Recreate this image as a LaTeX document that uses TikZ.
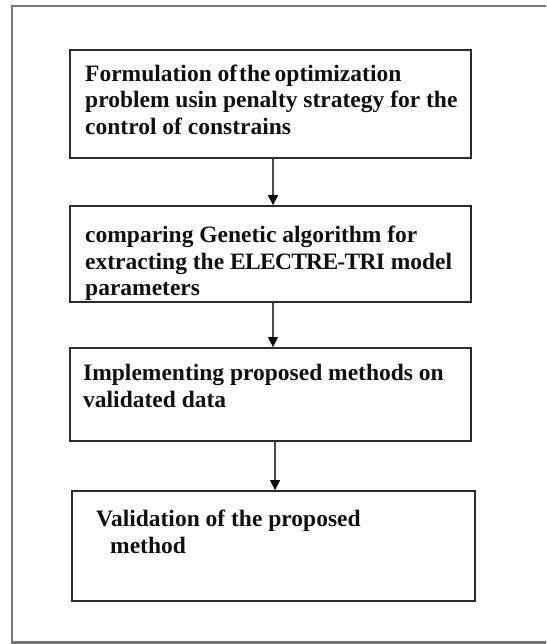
\documentclass[tikz,border=0pt]{standalone}
\usepackage{fontspec}
\setmainfont{Liberation Serif}
\usetikzlibrary{arrows.meta}
\definecolor{framegray}{HTML}{767676}
\definecolor{boxline}{HTML}{2B2B2B}
\definecolor{shaft}{HTML}{4A4A4A}
\definecolor{txt}{HTML}{101010}
\tikzset{
  stepbox/.style={draw=boxline, line width=1.8pt, rectangle, inner sep=0pt},
  steptext/.style={anchor=north west, inner sep=0pt, align=left, text=txt,
    font=\fontsize{23.5}{26.5}\selectfont\bfseries},
  flow/.style={draw=shaft, line width=1.2pt, -{Triangle[width=10pt,length=10pt,color=black]}}
}
\begin{document}
\begin{tikzpicture}[x=1pt,y=-1pt]
\useasboundingbox (0,0) rectangle (546,644);
\begin{scope}
\clip (0,0) rectangle (546,644);
\draw[framegray, line width=2.5pt] (12,6) rectangle (560,642.5);
\end{scope}
% boxes
\node[stepbox, minimum width=401pt, minimum height=108pt] (b1) at (270.5,104) {};
\node[stepbox, minimum width=401pt, minimum height=96pt] (b2) at (270.5,254) {};
\node[stepbox, minimum width=401pt, minimum height=93pt] (b3) at (270.5,394.5) {};
\node[stepbox, minimum width=403pt, minimum height=110pt] (b4) at (273.5,546) {};
% texts
\node[steptext] (t1) at (85,64.5) {Formulation of\hspace{0.08em}the\hspace{0.18em}optimization\\problem usin penalty strategy for the\\control of constrains};
\node[steptext] (t2) at (85,226) {comparing Genetic algorithm for\\extracting the {\addfontfeature{LetterSpace=-3}ELECTRE-TRI} model\\parameters};
\node[steptext] (t3) at (83,364) {Implementing proposed methods on\\validated data};
\node[steptext] (t4) at (96,510) {Validation of the proposed\\\hspace*{14pt}method};
% connectors
\coordinate (a1) at (273,0);
\coordinate (a3) at (275,0);
\draw[flow] (b1.south -| a1) -- (b2.north -| a1);
\draw[flow] (b2.south -| a1) -- (b3.north -| a1);
\draw[flow] (b3.south -| a3) -- (b4.north -| a3);
\end{tikzpicture}
\end{document}
